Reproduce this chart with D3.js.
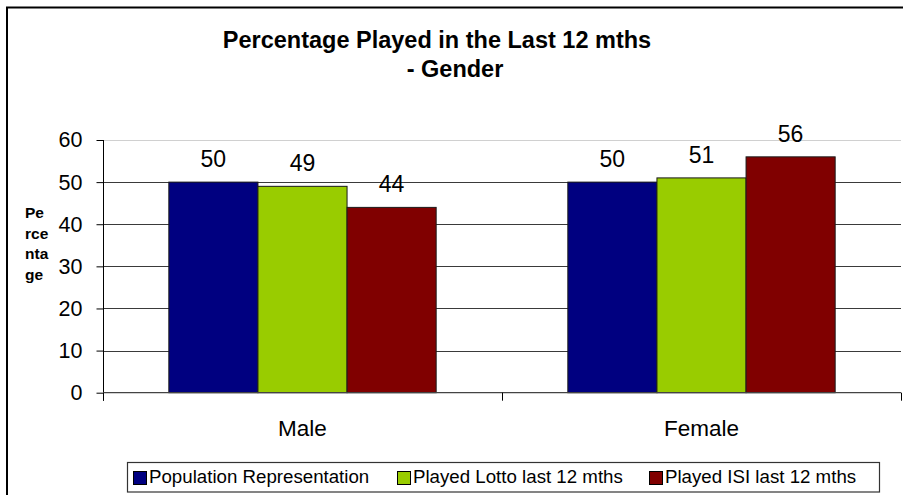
<!DOCTYPE html>
<html>
<head>
<meta charset="utf-8">
<script src="https://cdn.jsdelivr.net/npm/d3@7"></script>
<style>
  html, body { margin: 0; padding: 0; background: #fff; }
  svg { display: block; font-family: "Liberation Sans", Arial, sans-serif; }
</style>
</head>
<body>
<svg id="chart" width="903" height="495"></svg>
<script>
const categories = ["Male", "Female"];
const seriesNames = ["Population Representation", "Played Lotto last 12 mths", "Played ISI last 12 mths"];
const populationRep = [50, 50];
const playedLotto = [49, 51];
const playedISI = [44, 56];
const yTicks = [0, 10, 20, 30, 40, 50, 60];
const seriesColors = ["#000080", "#99CC00", "#800000"];
const titleLines = ["Percentage Played in the Last 12 mths", "- Gender"];
const yLabelLines = ["Pe", "rce", "nta", "ge"];

const seriesValues = [populationRep, playedLotto, playedISI];

const svg = d3.select("#chart");

// outer frame (clipped on right/bottom)
svg.append("rect")
  .attr("x", 7).attr("y", 7.5)
  .attr("width", 1000).attr("height", 600)
  .attr("fill", "#fff").attr("stroke", "#000").attr("stroke-width", 2);

// scales
const plot = { left: 103, right: 901, top: 140, bottom: 392.7 };
const x0 = d3.scaleBand().domain(categories).range([plot.left, plot.right]).padding(0);
const bw = x0.bandwidth();
const x1 = d3.scaleBand().domain(seriesNames).range([bw * 0.165, bw * 0.835]).padding(0);
const y = d3.scaleLinear().domain([0, 60]).range([plot.bottom, plot.top]);

// gridlines
svg.append("g").selectAll("line")
  .data(yTicks.filter(t => t > 0))
  .join("line")
  .attr("x1", plot.left).attr("x2", plot.right)
  .attr("y1", d => Math.round(y(d)) + 0.5).attr("y2", d => Math.round(y(d)) + 0.5)
  .attr("stroke", d => d === 60 ? "#d0d0d0" : "#3a3a3a")
  .attr("stroke-width", 1);

// y axis
const yAxis = d3.axisLeft(y).tickValues(yTicks).tickSize(7).tickPadding(14).tickFormat(d3.format("d"));
const gy = svg.append("g").attr("transform", `translate(${plot.left + 0.5},0)`).call(yAxis);
gy.select(".domain").attr("stroke", "#000").attr("d", `M0,${plot.top}V${plot.bottom + 8}`);
gy.selectAll(".tick line").attr("stroke", "#000");
gy.selectAll(".tick text").attr("font-size", 21.5).attr("fill", "#000")
  .attr("font-family", "Liberation Sans, Arial, sans-serif");

// bars
const groups = svg.append("g").selectAll("g")
  .data(categories)
  .join("g")
  .attr("transform", d => `translate(${x0(d)},0)`);

groups.selectAll("rect")
  .data((c, ci) => seriesNames.map((s, si) => ({ s, si, v: seriesValues[si][ci] })))
  .join("rect")
  .attr("x", d => x1(d.s))
  .attr("width", x1.bandwidth())
  .attr("y", d => y(d.v))
  .attr("height", d => y(0) - y(d.v))
  .attr("fill", d => seriesColors[d.si])
  .attr("stroke", "#1a1a1a")
  .attr("stroke-width", 1);

groups.selectAll("text")
  .data((c, ci) => seriesNames.map((s, si) => ({ s, si, v: seriesValues[si][ci] })))
  .join("text")
  .attr("x", d => x1(d.s) + x1.bandwidth() / 2)
  .attr("y", d => y(d.v) - 15)
  .attr("text-anchor", "middle")
  .attr("font-size", 23)
  .attr("fill", "#000")
  .text(d => d.v);

// x axis
const gx = svg.append("g").attr("transform", `translate(0,${plot.bottom})`);
gx.append("line").attr("x1", plot.left).attr("x2", plot.right)
  .attr("y1", 0).attr("y2", 0).attr("stroke", "#444").attr("stroke-width", 1.2);
gx.selectAll("line.b")
  .data(categories.concat(["end"]))
  .join("line").attr("class", "b")
  .attr("x1", (d, i) => (i < categories.length ? x0(d) : plot.right) + 0.5)
  .attr("x2", (d, i) => (i < categories.length ? x0(d) : plot.right) + 0.5)
  .attr("y1", 0).attr("y2", 8).attr("stroke", "#000");
gx.selectAll("text.cat")
  .data(categories)
  .join("text").attr("class", "cat")
  .attr("x", d => x0(d) + bw / 2)
  .attr("y", 43)
  .attr("text-anchor", "middle")
  .attr("font-size", 22.5)
  .attr("fill", "#000")
  .text(d => d);

// title
svg.append("g").selectAll("text")
  .data(titleLines)
  .join("text")
  .attr("x", (d, i) => i === 0 ? 437 : 455)
  .attr("y", (d, i) => i === 0 ? 48 : 77)
  .attr("text-anchor", "middle")
  .attr("font-size", 23.5)
  .attr("font-weight", "bold")
  .attr("fill", "#000")
  .text(d => d);

// y label
svg.append("g").selectAll("text")
  .data(yLabelLines)
  .join("text")
  .attr("x", 25)
  .attr("y", (d, i) => 218 + i * 20.5)
  .attr("font-size", 15.5)
  .attr("font-weight", "bold")
  .attr("fill", "#000")
  .text(d => d);

// legend
const legend = svg.append("g");
legend.append("rect")
  .attr("x", 127.5).attr("y", 462.5).attr("width", 752).attr("height", 29.5)
  .attr("fill", "#fff").attr("stroke", "#333").attr("stroke-width", 1.2);
const legendX = [133, 397, 649];
const items = legend.selectAll("g.item")
  .data(seriesNames)
  .join("g").attr("class", "item")
  .attr("transform", (d, i) => `translate(${legendX[i]},471)`);
items.append("rect")
  .attr("x", 0.5).attr("y", 0.5).attr("width", 13).attr("height", 13)
  .attr("fill", (d, i) => seriesColors[i]).attr("stroke", "#000").attr("stroke-width", 1);
items.append("text")
  .attr("x", 16).attr("y", 12)
  .attr("font-size", 18.7)
  .attr("fill", "#000")
  .text(d => d);
</script>
</body>
</html>
